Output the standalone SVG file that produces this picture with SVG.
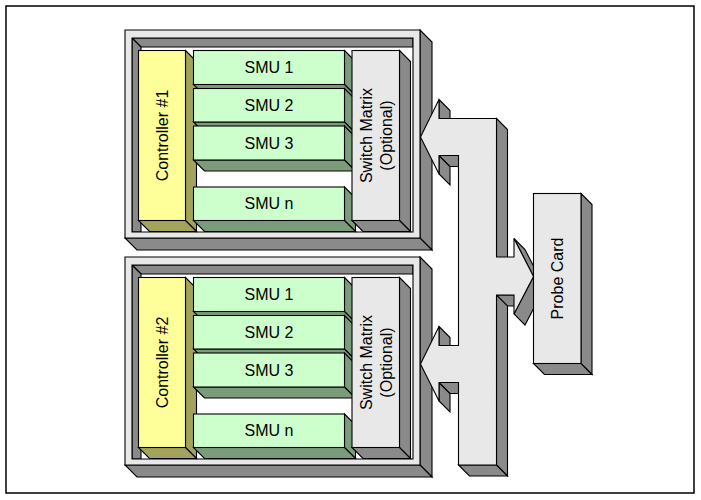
<svg xmlns="http://www.w3.org/2000/svg" width="701" height="500" viewBox="0 0 701 500">
  <style>
    .ln { stroke: #000; stroke-width: 1.1; stroke-linejoin: miter; }
    .gf { fill: #e8e8e8; }
    .gs { fill: #8a8a8a; }
    .yf { fill: #ffff99; }
    .ys { fill: #a3a35e; }
    .nf { fill: #ccffcc; }
    .ns { fill: #7b9c7b; }
    .lbl { font-family: "Liberation Sans", Arial, sans-serif; font-size: 16px; fill: #000; text-anchor: middle; }
  </style>

  <rect x="0" y="0" width="701" height="500" fill="#fff"/>
  <!-- page border -->
  <rect x="6" y="6" width="688" height="487" fill="none" stroke="#000" stroke-width="1.5"/>

  <!-- ===== Rack 1 ===== -->
  <g id="rack1">
    <g id="rack1-frame">
      <polygon class="gs ln" points="132,38 413,38 413,47 141,47"/>
      <polygon class="gs ln" points="132,38 141,47 141,232 132,232"/>
      <polygon class="gs ln" points="420,30 432,42 432,250 420,238"/>
      <polygon class="gs ln" points="125,238 420,238 432,250 137,250"/>
      <path class="gf ln" fill-rule="evenodd" d="M125,30 H420 V238 H125 Z M132,38 V232 H413 V38 Z"/>
    </g>
    <g id="controller1">
      <polygon class="ys ln" points="185.5,50.5 196.5,61.5 196.5,231.5 185.5,220.5"/>
      <polygon class="ys ln" points="138.5,220.5 185.5,220.5 196.5,231.5 149.5,231.5"/>
      <rect class="yf ln" x="138.5" y="50.5" width="47" height="170"/>
      <text class="lbl" transform="translate(168,135.5) rotate(-90)">Controller #1</text>
    </g>
    <g id="rack1-smu1">
      <polygon class="ns ln" points="344.5,50.5 355.5,61.5 355.5,95.5 344.5,84.5"/>
      <polygon class="ns ln" points="193.5,84.5 344.5,84.5 355.5,95.5 204.5,95.5"/>
      <rect class="nf ln" x="193.5" y="50.5" width="151" height="34"/>
      <text class="lbl" x="269" y="73">SMU 1</text>
    </g>
    <g id="rack1-smu2">
      <polygon class="ns ln" points="344.5,88.5 355.5,99.5 355.5,133 344.5,122"/>
      <polygon class="ns ln" points="193.5,122 344.5,122 355.5,133 204.5,133"/>
      <rect class="nf ln" x="193.5" y="88.5" width="151" height="33.5"/>
      <text class="lbl" x="269" y="111">SMU 2</text>
    </g>
    <g id="rack1-smu3">
      <polygon class="ns ln" points="344.5,126 355.5,137 355.5,171 344.5,160"/>
      <polygon class="ns ln" points="193.5,160 344.5,160 355.5,171 204.5,171"/>
      <rect class="nf ln" x="193.5" y="126" width="151" height="34"/>
      <text class="lbl" x="269" y="148.8">SMU 3</text>
    </g>
    <g id="rack1-smun">
      <polygon class="ns ln" points="344.5,187 355.5,198 355.5,231.5 344.5,220.5"/>
      <polygon class="ns ln" points="193.5,220.5 344.5,220.5 355.5,231.5 204.5,231.5"/>
      <rect class="nf ln" x="193.5" y="187" width="151" height="33.5"/>
      <text class="lbl" x="269" y="209.3">SMU n</text>
    </g>
    <g id="rack1-switch">
      <polygon class="gs ln" points="399.5,50.5 410.5,61.5 410.5,231.5 399.5,220.5"/>
      <polygon class="gs ln" points="352,220.5 399.5,220.5 410.5,231.5 363,231.5"/>
      <rect class="gf ln" x="352" y="50.5" width="47.5" height="170"/>
      <text class="lbl" transform="translate(372,135.5) rotate(-90)">Switch Matrix</text>
      <text class="lbl" transform="translate(392,135.5) rotate(-90)">(Optional)</text>
    </g>
  </g>

  <!-- ===== Rack 2 (same build, shifted down) ===== -->
  <g id="rack2" transform="translate(0,227)">
    <g id="rack2-frame">
      <polygon class="gs ln" points="132,38 413,38 413,47 141,47"/>
      <polygon class="gs ln" points="132,38 141,47 141,232 132,232"/>
      <polygon class="gs ln" points="420,30 432,42 432,250 420,238"/>
      <polygon class="gs ln" points="125,238 420,238 432,250 137,250"/>
      <path class="gf ln" fill-rule="evenodd" d="M125,30 H420 V238 H125 Z M132,38 V232 H413 V38 Z"/>
    </g>
    <g id="controller2">
      <polygon class="ys ln" points="185.5,50.5 196.5,61.5 196.5,231.5 185.5,220.5"/>
      <polygon class="ys ln" points="138.5,220.5 185.5,220.5 196.5,231.5 149.5,231.5"/>
      <rect class="yf ln" x="138.5" y="50.5" width="47" height="170"/>
      <text class="lbl" transform="translate(168,135.5) rotate(-90)">Controller #2</text>
    </g>
    <g id="rack2-smu1">
      <polygon class="ns ln" points="344.5,50.5 355.5,61.5 355.5,95.5 344.5,84.5"/>
      <polygon class="ns ln" points="193.5,84.5 344.5,84.5 355.5,95.5 204.5,95.5"/>
      <rect class="nf ln" x="193.5" y="50.5" width="151" height="34"/>
      <text class="lbl" x="269" y="73">SMU 1</text>
    </g>
    <g id="rack2-smu2">
      <polygon class="ns ln" points="344.5,88.5 355.5,99.5 355.5,133 344.5,122"/>
      <polygon class="ns ln" points="193.5,122 344.5,122 355.5,133 204.5,133"/>
      <rect class="nf ln" x="193.5" y="88.5" width="151" height="33.5"/>
      <text class="lbl" x="269" y="111">SMU 2</text>
    </g>
    <g id="rack2-smu3">
      <polygon class="ns ln" points="344.5,126 355.5,137 355.5,171 344.5,160"/>
      <polygon class="ns ln" points="193.5,160 344.5,160 355.5,171 204.5,171"/>
      <rect class="nf ln" x="193.5" y="126" width="151" height="34"/>
      <text class="lbl" x="269" y="148.8">SMU 3</text>
    </g>
    <g id="rack2-smun">
      <polygon class="ns ln" points="344.5,187 355.5,198 355.5,231.5 344.5,220.5"/>
      <polygon class="ns ln" points="193.5,220.5 344.5,220.5 355.5,231.5 204.5,231.5"/>
      <rect class="nf ln" x="193.5" y="187" width="151" height="33.5"/>
      <text class="lbl" x="269" y="209.3">SMU n</text>
    </g>
    <g id="rack2-switch">
      <polygon class="gs ln" points="399.5,50.5 410.5,61.5 410.5,231.5 399.5,220.5"/>
      <polygon class="gs ln" points="352,220.5 399.5,220.5 410.5,231.5 363,231.5"/>
      <rect class="gf ln" x="352" y="50.5" width="47.5" height="170"/>
      <text class="lbl" transform="translate(372,135.5) rotate(-90)">Switch Matrix</text>
      <text class="lbl" transform="translate(392,135.5) rotate(-90)">(Optional)</text>
    </g>
  </g>

  <!-- ===== Connector: 3-D bus arrow between racks and probe card ===== -->
  <g id="connectors">
    <!-- extruded sides -->
    <polygon class="gs ln" points="439,99.5 450,110.5 450,129.5 439,118.5"/>
    <polygon class="gs ln" points="439,155.5 450,166.5 450,185 439,174"/>
    <polygon class="gs ln" points="439,155.5 458.5,155.5 469.5,166.5 450,166.5"/>
    <polygon class="gs ln" points="496.5,118.5 507.5,129.5 507.5,476 496.5,465"/>
    <polygon class="gs ln" points="458.5,465 496.5,465 507.5,476 469.5,476"/>
    <polygon class="gs ln" points="439,326.5 450,337.5 450,356.5 439,345.5"/>
    <polygon class="gs ln" points="439,382.5 450,393.5 450,412 439,401"/>
    <polygon class="gs ln" points="439,382.5 458.5,382.5 469.5,393.5 450,393.5"/>
    <polygon class="gs ln" points="496.5,295 514,295 525,306 507.5,306"/>
    <polygon class="gs ln" points="514,238.5 533.5,276.5 544.5,287.5 525,249.5"/>
    <polygon class="gs ln" points="533.5,276.5 514,314 525,325 544.5,287.5"/>
    <!-- front face -->
    <polygon class="gf ln" points="420.5,137 439,99.5 439,118.5 496.5,118.5 496.5,257 514,257 514,238.5 533.5,276.5 514,314 514,295 496.5,295 496.5,465 458.5,465 458.5,382.5 439,382.5 439,401 420.5,364 439,326.5 439,345.5 458.5,345.5 458.5,155.5 439,155.5 439,174"/>
  </g>

  <!-- ===== Probe card ===== -->
  <g id="probe-card">
    <polygon class="gs ln" points="581,193.5 592,204.5 592,374.5 581,363.5"/>
    <polygon class="gs ln" points="533.5,363.5 581,363.5 592,374.5 544.5,374.5"/>
    <rect class="gf ln" x="533.5" y="193.5" width="47.5" height="170"/>
    <text class="lbl" transform="translate(563,278.5) rotate(-90)">Probe Card</text>
  </g>
</svg>
